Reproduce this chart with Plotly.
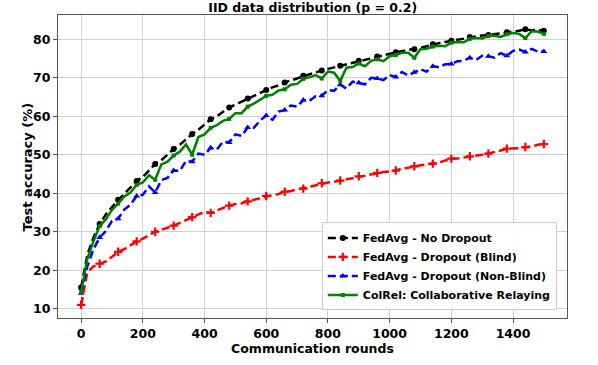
import plotly.graph_objects as go

# communication rounds, sampled every 20 rounds
rounds = list(range(0, 1501, 20))

no_dropout = [15.5, 24.0, 28.5, 32.0, 34.5, 36.5, 38.3, 39.8, 41.5, 43.2,
              44.2, 45.8, 47.6, 48.6, 50.0, 51.5, 52.6, 54.0, 55.4, 56.5,
              57.8, 59.2, 60.0, 61.2, 62.3, 63.0, 63.8, 64.6, 65.3, 66.0,
              66.8, 67.5, 68.0, 68.8, 69.3, 69.9, 70.5, 71.0, 71.4, 71.9,
              72.3, 72.7, 73.1, 73.6, 74.0, 74.4, 74.7, 75.1, 75.5, 75.8,
              76.2, 76.6, 76.9, 77.2, 77.4, 77.8, 78.2, 78.7, 79.0, 79.3,
              79.6, 80.0, 80.3, 80.6, 80.8, 81.0, 81.1, 81.3, 81.6, 81.8,
              82.0, 82.2, 82.6, 82.3, 82.5, 82.2]

dropout_blind = [11.0, 19.5, 21.0, 21.7, 22.3, 23.5, 24.8, 25.5, 26.5, 27.5,
                 28.2, 29.0, 30.0, 30.5, 31.0, 31.6, 32.3, 33.0, 33.8, 34.4,
                 35.2, 34.9, 35.6, 36.2, 36.8, 37.2, 37.4, 37.9, 38.3, 38.7,
                 39.3, 39.5, 39.8, 40.4, 40.6, 41.0, 41.2, 41.6, 42.2, 42.6,
                 42.8, 43.0, 43.3, 43.8, 44.0, 44.4, 44.6, 44.9, 45.3, 45.5,
                 45.7, 45.9, 46.4, 46.6, 47.0, 47.2, 47.4, 47.7, 48.0, 48.5,
                 49.0, 49.0, 49.3, 49.6, 49.8, 50.0, 50.3, 50.7, 51.1, 51.6,
                 51.6, 51.7, 52.0, 52.1, 52.6, 52.8]

dropout_nonblind = [14.0, 21.0, 25.5, 28.5, 30.2, 32.8, 33.4, 35.8, 37.0, 39.3,
                    39.6, 41.8, 40.2, 43.4, 44.0, 45.9, 45.8, 48.4, 48.2, 50.3,
                    50.0, 51.8, 51.4, 53.4, 53.2, 55.3, 54.9, 57.1, 57.0, 58.9,
                    60.2, 59.1, 61.2, 61.6, 62.8, 62.5, 64.2, 64.0, 65.2, 65.3,
                    66.8, 66.6, 68.2, 67.2, 69.0, 68.7, 68.3, 70.0, 69.8, 69.4,
                    70.7, 70.2, 71.5, 70.6, 71.4, 72.2, 71.6, 73.0, 72.7, 73.5,
                    73.6, 74.3, 74.4, 75.2, 74.6, 75.7, 75.6, 75.2, 76.4, 75.7,
                    77.0, 77.3, 76.7, 77.5, 76.8, 76.8]

colrel = [14.3, 23.0, 27.5, 31.5, 33.2, 35.7, 37.3, 39.2, 40.2, 42.2,
          42.8, 44.7, 43.5, 47.5, 48.2, 49.8, 50.8, 52.7, 50.0, 54.6,
          55.3, 57.0, 57.7, 58.8, 59.3, 60.8, 60.8, 62.5, 63.3, 64.2,
          65.3, 65.6, 66.7, 67.0, 68.2, 68.4, 69.7, 70.1, 70.7, 69.8,
          71.6, 71.3, 69.2, 72.6, 72.8, 73.7, 73.0, 74.4, 74.8, 74.3,
          75.6, 75.9, 76.5, 76.5, 75.2, 77.4, 77.5, 78.1, 78.3, 78.2,
          79.1, 79.3, 79.2, 80.1, 80.3, 80.2, 80.9, 80.9, 80.6, 81.3,
          81.6, 81.4, 80.3, 82.1, 82.0, 81.4]

x_ticks = [0, 200, 400, 600, 800, 1000, 1200, 1400]
y_ticks = [10, 20, 30, 40, 50, 60, 70, 80]

series = [
    ("FedAvg - No Dropout", no_dropout, "black", "8px,4px", "circle", 6),
    ("FedAvg - Dropout (Blind)", dropout_blind, "red", "8px,4px", "cross-thin", 6),
    ("FedAvg - Dropout (Non-Blind)", dropout_nonblind, "blue", "8px,4px", "triangle-up", 6),
    ("ColRel: Collaborative Relaying", colrel, "green", "solid", "square", 4),
]

fig = go.Figure()
for name, vals, color, dash, symbol, msize in series:
    mline = dict(color=color, width=2.2 if symbol == "cross-thin" else 0)
    # full curve, no markers
    fig.add_trace(go.Scatter(
        x=rounds, y=vals, name=name, mode="lines", showlegend=False,
        line=dict(color=color, width=2.5, dash=dash), legendgroup=name,
    ))
    # marker on every 60 rounds
    fig.add_trace(go.Scatter(
        x=rounds[::3], y=vals[::3], name=name, mode="markers", showlegend=False,
        marker=dict(symbol=symbol, size=msize, color=color, line=mline), legendgroup=name,
    ))
    # legend entry
    fig.add_trace(go.Scatter(
        x=[None], y=[None], name=name, mode="lines+markers", legendgroup=name,
        line=dict(color=color, width=2.5, dash=dash),
        marker=dict(symbol=symbol, size=msize, color=color, line=mline),
    ))

font = dict(family="DejaVu Sans", color="black", weight="bold")

fig.update_layout(
    width=598, height=365,
    margin=dict(l=58, r=31, t=15, b=47),
    paper_bgcolor="white", plot_bgcolor="white",
    title=dict(text="IID data distribution (p = 0.2)", x=0.523, xanchor="center",
               y=0.978, yanchor="middle", font=dict(size=12.5, **font)),
    showlegend=True,
    legend=dict(x=0.98, y=0.025, xanchor="right", yanchor="bottom",
                bgcolor="rgba(255,255,255,0.9)", bordercolor="#cccccc", borderwidth=1,
                font=dict(size=11, **font), tracegroupgap=0),
)
# y-axis title placed by hand so it sits close to the tick labels
fig.add_annotation(text="Test accuracy (%)", textangle=-90, showarrow=False,
                   xref="paper", yref="paper", x=-0.059, y=0.5,
                   xanchor="center", yanchor="middle", font=dict(size=13, **font))
fig.update_xaxes(
    range=[-75, 1575], tickvals=x_ticks, showgrid=True, gridcolor="#d0d0d0", gridwidth=1,
    showline=True, linecolor="#555555", linewidth=1, mirror=True, zeroline=False,
    ticks="outside", ticklen=4, tickcolor="#555555", tickfont=dict(size=12.5, **font),
    title=dict(text="Communication rounds", font=dict(size=12.5, **font), standoff=2),
)
fig.update_yaxes(
    range=[7.6, 86.3], tickvals=y_ticks, showgrid=True, gridcolor="#d0d0d0", gridwidth=1,
    showline=True, linecolor="#555555", linewidth=1, mirror=True, zeroline=False,
    ticks="outside", ticklen=4, tickcolor="#555555", tickfont=dict(size=12.5, **font),
)

# page body has a default 8px margin; drop it so the figure sits at the window corner
fig.write_html("out.html", config={"displayModeBar": False},
               post_script="document.body.style.margin='0';")
